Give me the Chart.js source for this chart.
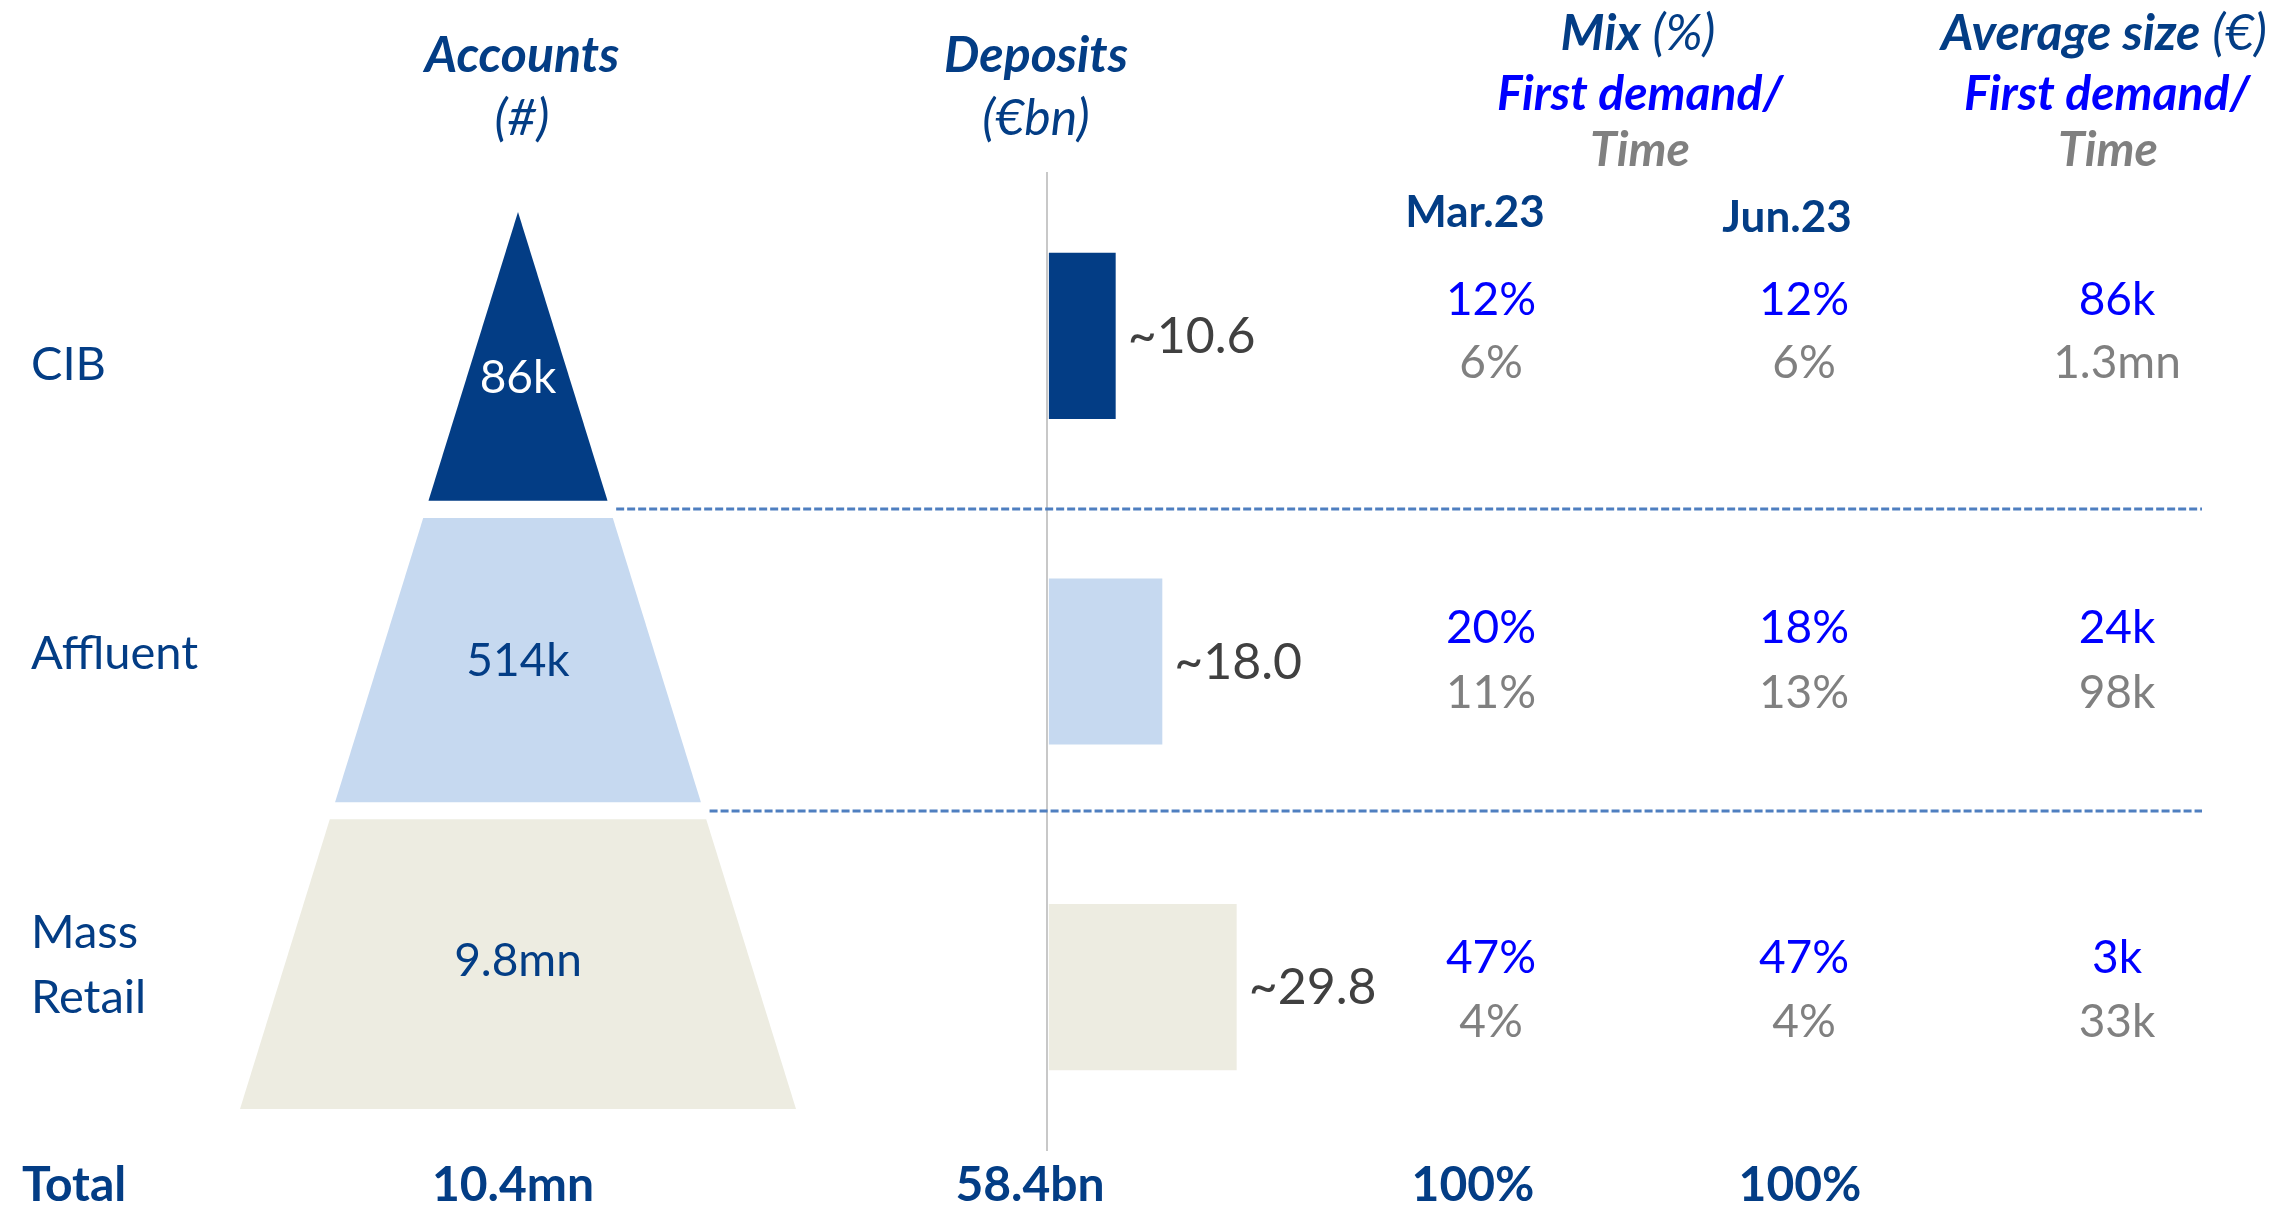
<!DOCTYPE html>
<html>
<head>
<meta charset="utf-8">
<script src="https://cdn.jsdelivr.net/npm/chart.js@4.4.0/dist/chart.umd.min.js"></script>
<style>
  html, body { margin: 0; padding: 0; background: #fff; }
  body { position: relative; width: 2288px; height: 1207px; overflow: hidden; font-family: Lato, "Open Sans", sans-serif; }
  canvas { position: absolute; left: 0; top: 0; }
  #depChart { z-index: 1; }
  #funnelChart { z-index: 2; }
  .t { position: absolute; z-index: 3; line-height: 1.2; white-space: nowrap; font-size: 46px; }
  .head { color: #033d85; font-style: italic; font-size: 50px; }
  .head b { font-weight: 700; }
  .sub { font-style: italic; font-weight: 700; font-size: 48px; }
  .blue { color: #0000ff; }
  .grey { color: #808080; }
  .navy { color: #033d85; font-size: 47px; }
  .date { font-weight: 700; font-size: 44px; color: #033d85; }
  .total { font-weight: 700; font-size: 48px; color: #033d85; }
</style>
</head>
<body>
<canvas id="depChart" width="2288" height="1207"></canvas>
<canvas id="funnelChart" width="2288" height="1207"></canvas>
<script>
// rows of the table
const segments = ["CIB", "Affluent", "Mass Retail"];
const accounts = ["86k", "514k", "9.8mn"];
const deposits = [10.6, 18.0, 29.8];

// mix (%) first demand / time
const mixDemandMar = [12, 20, 47];
const mixTimeMar = [6, 11, 4];
const mixDemandJun = [12, 18, 47];
const mixTimeJun = [6, 13, 4];

// average size (€) first demand / time
const avgDemand = ["86k", "24k", "3k"];
const avgTime = ["1.3mn", "98k", "33k"];

const totalAccounts = "10.4mn";
const totalDeposits = "58.4bn";
const totalMix = ["100%", "100%"];

const segColors = ["#033d85", "#c6d9f0", "#edece1"];
const funnelText = ["#ffffff", "#033d85", "#033d85"];

// funnel tiers, in depth from the apex (0) to the base (1)
const tierTop = [0, 0.341, 0.677];
const tierBottom = [0.322, 0.658, 1];
const labelDepth = [0.202, 0.517, 0.852];
const SEP_END = 2202;

Chart.defaults.font.family = "Lato";

// ---- deposits bars ----
const depositLabels = {
  id: "depositLabels",
  afterDatasetsDraw(chart) {
    const { ctx } = chart;
    const meta = chart.getDatasetMeta(0);
    ctx.save();
    ctx.font = "50px Lato";
    ctx.fillStyle = "#404040";
    ctx.textAlign = "left";
    ctx.textBaseline = "alphabetic";
    meta.data.forEach((bar, i) => {
      ctx.fillText("~" + deposits[i].toFixed(1), bar.x + 12, bar.y + 17);
    });
    ctx.restore();
  },
};

new Chart(document.getElementById("depChart"), {
  type: "bar",
  data: {
    labels: segments,
    datasets: [
      {
        data: deposits,
        backgroundColor: segColors,
        borderWidth: 0,
        categoryPercentage: 1,
        barPercentage: 0.51,
      },
    ],
  },
  options: {
    indexAxis: "y",
    responsive: false,
    animation: false,
    layout: { padding: { left: 1047, right: 86, top: 173, bottom: 57 } },
    plugins: { legend: { display: false }, tooltip: { enabled: false } },
    scales: {
      x: { display: false, min: -0.3, max: 183 },
      y: {
        ticks: { display: false },
        grid: { display: false, drawTicks: false },
        border: { display: true, color: "#c8c8c8", width: 2 },
      },
    },
  },
  plugins: [depositLabels],
});

// ---- accounts funnel ----
const funnelDecor = {
  id: "funnelDecor",
  afterDatasetsDraw(chart) {
    const { ctx, scales } = chart;
    const x = scales.x, y = scales.y;
    ctx.save();
    // dashed separators between the tiers
    ctx.strokeStyle = "#4f7fc0";
    ctx.lineWidth = 3;
    ctx.setLineDash([8, 3]);
    for (let i = 0; i < tierTop.length - 1; i++) {
      const d = (tierBottom[i] + tierTop[i + 1]) / 2;
      const py = Math.round(y.getPixelForValue(d));
      ctx.beginPath();
      ctx.moveTo(x.getPixelForValue(d) + 6, py);
      ctx.lineTo(SEP_END, py);
      ctx.stroke();
    }
    ctx.setLineDash([]);
    // account numbers
    ctx.font = "46px Lato";
    ctx.textAlign = "center";
    ctx.textBaseline = "alphabetic";
    accounts.forEach((a, i) => {
      ctx.fillStyle = funnelText[i];
      ctx.fillText(a, x.getPixelForValue(0), y.getPixelForValue(labelDepth[i]));
    });
    ctx.restore();
  },
};

const tierSets = segments.map((s, i) => {
  const t = tierTop[i], b = tierBottom[i];
  return {
    label: s,
    data: [
      { x: -t, y: t },
      { x: t, y: t },
      { x: b, y: b },
      { x: -b, y: b },
      { x: -t, y: t },
    ],
    showLine: true,
    fill: "shape",
    backgroundColor: segColors[i],
    borderColor: segColors[i],
    borderWidth: 0,
    pointRadius: 0,
    tension: 0,
    clip: false,
  };
});

new Chart(document.getElementById("funnelChart"), {
  type: "scatter",
  data: { datasets: tierSets },
  options: {
    responsive: false,
    animation: false,
    layout: { padding: { left: 240, right: 1492, top: 212, bottom: 98 } },
    plugins: { legend: { display: false }, tooltip: { enabled: false } },
    scales: {
      x: { display: false, min: -1, max: 1 },
      y: { display: false, min: 0, max: 1, reverse: true },
    },
  },
  plugins: [funnelDecor],
});

// ---- table text ----
const ASC = 0.987;
function put(html, x, base, cls, align) {
  const el = document.createElement("div");
  el.className = "t " + cls;
  el.innerHTML = html;
  document.body.appendChild(el);
  const size = parseFloat(getComputedStyle(el).fontSize);
  el.style.top = base - ASC * size + "px";
  el.style.left = x + "px";
  if (align !== "left") el.style.transform = "translateX(-50%)";
}

put("<b>Accounts</b>", 522, 72, "head");
put("(#)", 522, 135, "head");
put("<b>Deposits</b>", 1036, 72, "head");
put("(€bn)", 1036, 135, "head");
put("<b>Mix</b> (%)", 1638, 50, "head");
put("First demand/", 1640, 110, "sub blue");
put("Time", 1640, 166, "sub grey");
put("<b>Average size</b> (€)", 2104, 50, "head");
put("First demand/", 2107, 110, "sub blue");
put("Time", 2108, 166, "sub grey");
put("Mar.23", 1475, 227, "date");
put("Jun.23", 1787, 232, "date");

put("CIB", 31, 380, "navy", "left");
put("Affluent", 31, 669, "navy", "left");
put("Mass", 31, 948, "navy", "left");
put("Retail", 31, 1013, "navy", "left");

const blueBase = [315, 643, 973];
const greyBase = [378, 708, 1037];
segments.forEach((s, i) => {
  put(mixDemandMar[i] + "%", 1491, blueBase[i], "blue");
  put(mixTimeMar[i] + "%", 1491, greyBase[i], "grey");
  put(mixDemandJun[i] + "%", 1804, blueBase[i], "blue");
  put(mixTimeJun[i] + "%", 1804, greyBase[i], "grey");
  put(avgDemand[i], 2117, blueBase[i], "blue");
  put(avgTime[i], 2117, greyBase[i], "grey");
});

put("Total", 22, 1201, "total", "left");
put(totalAccounts, 513, 1201, "total");
put(totalDeposits, 1030, 1201, "total");
put(totalMix[0], 1473, 1201, "total");
put(totalMix[1], 1800, 1201, "total");
</script>
</body>
</html>
